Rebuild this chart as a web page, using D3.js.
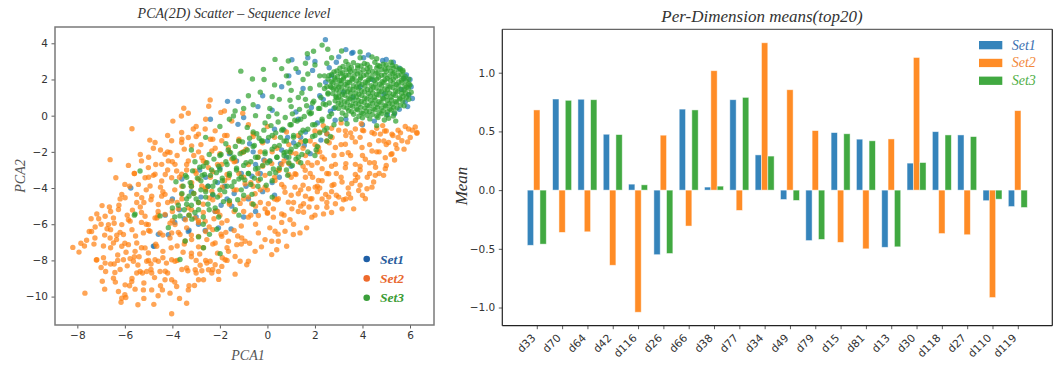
<!DOCTYPE html>
<html><head><meta charset="utf-8">
<script src="https://cdn.jsdelivr.net/npm/d3@7"></script>
<style>body{margin:0;background:#fff}svg{display:block}</style>
</head><body><svg id="c" width="1058" height="366"></svg>
<script>
// ---------- Scatter data (PCA coordinates) ----------
const set1Points = [
[5.55,2.62],[5.85,2.25],[6.0,2.0],[5.95,1.15],[5.8,0.75],[5.55,0.35],[5.05,0.05],[4.5,-0.3],[3.3,-0.2],[2.8,0.4],
[2.6,2.65],[3.0,3.25],[3.55,3.45],[4.25,3.35],[4.85,3.05],[5.3,2.95],[2.45,1.85],[2.35,0.9],[5.65,1.45],[3.6,1.0],
[4.4,2.0],[3.9,1.6],[4.9,1.2],[2.44,4.2],[1.03,3.09],[1.7,3.2],[2.0,3.0],[3.3,3.65],[3.6,3.5],[1.3,2.4],
[0.6,1.6],[-0.2,1.1],[0.9,2.2],[-1.68,0.79],[-1.23,0.79],[-2.4,-0.2],[-1.24,-0.48],[-1.0,-0.1],[-0.4,0.5],[0.2,0.3],
[1.5,1.5],[2.2,1.1],[1.9,2.5],[-3.2,-4.2],[-2.8,-4.5],[-2.3,-4.4],[-1.8,-3.9],[-1.4,-4.3],[-0.9,-3.9],[-0.3,-3.2],
[0.1,-2.5],[0.6,-1.9],[1.1,-1.5],[1.6,-0.9],[2.1,-0.4],[-2.0,-2.9],[-1.3,-2.5],[-0.6,-2.0],[0.0,-1.4],[0.7,-0.8],
[1.3,-0.2],[-3.6,-3.5],[-2.6,-3.4],[-0.2,-4.2],[0.5,-3.4],[1.0,-2.8],[1.8,-2.1],[2.5,-1.0],[-4.0,-4.6],[-3.7,-5.2],
[-3.0,-5.6],[-2.2,-5.3],[-1.5,-5.0],[-0.8,-4.6],[0.3,-4.4],[-2.1,-3.7],[-1.1,-3.2],[-0.5,-2.7],[0.8,-2.3],[-5.75,-4.0],
[-4.8,-7.21],[-4.59,-6.56],[-3.3,-6.33],[-2.13,-5.26],[-4.17,-6.58],[-4.77,-7.22],[-3.33,-6.4],[-2.62,-6.35],[-2.06,-6.2],[-1.53,-6.26],
[-3.9,-5.9],[-3.5,-5.7],[-2.9,-6.0],[-1.0,-5.6],[-0.5,-5.3],[-4.3,-5.5],[-1.7,-4.6],[-2.5,-3.9],[0.2,-3.7],[1.4,-1.2],
[6.05,1.6],[5.9,0.5],[5.35,0.1],[2.9,2.95],[4.05,3.2],[2.65,0.25],
[-1.6,-2.1],[-0.75,-1.55],[0.3,-0.75],[1.2,0.2],[1.85,0.45],[-2.85,-3.0],[-0.15,-2.45],[0.55,-2.65],[1.55,-1.65],[2.25,-1.35],
[-1.95,-4.95],[-0.65,-3.35],[0.85,-1.2],[2.85,-0.25],[3.2,1.3],[2.7,2.2],[5.75,2.05],[6.1,0.95],[4.0,-0.5],[5.0,3.1]
];
const set2Points = [
[-2.41,0.87],[-2.47,0.52],[-3.52,0.41],[-3.62,-0.02],[-3.33,0.13],[-3.98,-0.3],[-1.96,0.18],[-1.81,0.26],[-1.04,0.13],[-5.7,-0.72],
[-6.62,-2.43],[-6.38,-3.43],[-7.42,-5.7],[-7.18,-5.43],[-6.96,-4.97],[-6.83,-5.56],[-6.13,-4.35],[-5.99,-4.54],[-6.27,-5.19],[-5.68,-5.22],
[-8.19,-7.28],[-7.93,-7.54],[-7.61,-6.89],[-7.26,-6.76],[-7.68,-9.81],[-7.2,-7.98],[-6.85,-9.59],[-7.0,-8.39],[-6.81,-8.61],[-6.42,-8.67],
[-6.48,-8.98],[-6.27,-9.72],[-6.13,-10.09],[-5.96,-10.05],[-6.16,-10.31],[-5.99,-9.35],[-5.71,-9.17],[-5.57,-9.59],[-5.36,-8.61],[-5.26,-8.7],
[-5.08,-8.61],[-4.87,-8.7],[-4.52,-8.61],[-5.22,-9.63],[-4.87,-9.63],[-4.78,-10.43],[-4.42,-9.63],[-4.03,-10.95],[-4.31,-9.07],[-4.03,-9.07],
[-4.1,-9.81],[-3.82,-9.44],[-3.4,-10.37],[-3.33,-9.63],[-3.07,-9.39],[-2.9,-9.07],[-2.69,-9.07],[-3.35,-8.57],[-3.04,-8.52],[-2.76,-8.57],
[-2.48,-8.52],[-2.34,-8.7],[-2.83,-8.27],[-2.55,-8.14],[-2.2,-8.24],[-1.92,-8.33],[-2.06,-8.61],[-1.36,-8.76],[-6.34,-6.61],[-6.48,-7.04],
[-6.13,-7.22],[-5.85,-7.13],[-5.57,-7.5],[-5.5,-7.04],[-7.18,-7.96],[-6.83,-8.15],[-6.45,-8.2],[-6.06,-7.96],[-5.78,-7.9],[-5.64,-8.05],
[-5.15,-7.31],[-5.01,-7.59],[-4.73,-7.96],[-4.59,-8.05],[-5.08,-8.05],[-5.22,-6.48],[-4.94,-6.39],[-4.66,-7.22],[-4.52,-6.48],[-4.03,-7.96],
[-3.89,-8.05],[-3.4,-8.42],[-4.1,-6.76],[-3.68,-6.57],[-3.47,-6.94],[-3.19,-6.85],[-2.9,-6.67],[-2.55,-6.85],[-2.2,-7.04],[-1.92,-6.67],
[-1.64,-6.94],[-1.29,-7.13],[-1.64,-7.5],[-1.15,-8.05],[-1.36,-7.78],[-1.78,-7.96],[-2.41,-8.05],[-1.08,-6.76],[-4.03,-6.48],[-6.62,-6.76],
[-6.06,-6.57],[-0.94,-6.94],[-0.8,-8.05],[-0.87,-8.24],[-0.52,-7.5],[-0.38,-6.48],[-0.1,-6.85],[0.18,-6.94],[0.32,-6.39],[0.39,-7.41],
[0.18,-7.68],[0.74,-6.39],[0.81,-7.22],[1.09,-6.57],[1.37,-6.48],[1.65,-6.2],[0.46,-6.94],[6.29,-0.93],[6.01,-1.21],[5.94,-0.74],
[5.24,-2.1],[5.45,-1.82],[4.96,-2.93],[4.89,-3.3],[4.54,-3.3],[4.47,-3.67],[4.19,-4.04],[4.12,-4.59],[3.63,-5.15],[3.14,-5.15],
[2.86,-4.87],[2.5,-5.06],[2.36,-5.43],[1.87,-5.61],[1.52,-5.34],[1.03,-5.15],[0.6,-5.43],[0.25,-5.61],[-0.38,-5.52],[-0.8,-5.61],
[-0.1,-5.15],[4.68,-1.39],[5.1,-1.48],[3.98,-1.76],[4.4,-1.95],[4.96,-2.32],[4.12,-2.41],[3.7,-2.69],[5.24,-1.02],[5.66,-1.39],
[4.75,-1.02],[4.4,-0.93],[3.56,-1.21],[3.28,-1.58],[3.14,-2.14],[3.28,-2.88],[2.86,-2.69],[2.58,-3.21],[2.3,-2.93],[2.15,-3.58],
[2.72,-3.86],[3.14,-3.67],[3.7,-3.58],[3.84,-4.14],[3.42,-4.32],[3.0,-4.5],[2.58,-4.5],[1.87,-4.59],[1.3,-4.32],[1.73,-4.04],
[2.01,-3.95],[1.16,-3.95],[0.74,-4.23],[0.46,-4.59],[0.04,-4.87],[0.88,-4.78],[1.52,-4.87],[2.08,-5.06],[1.59,-3.02],[1.16,-3.21],
[1.87,-2.74],[2.3,-2.28],[2.86,-1.76],[3.28,-0.84],[3.7,-0.74],[4.05,-0.84],[2.72,-1.21],[2.15,-1.76],[-0.1,-3.95],[-0.52,-4.32],
[-0.66,-4.87],[-0.38,-3.58],[0.32,-3.58],[0.46,-3.02],[0.18,-2.65],[-0.94,-3.76],[-4.73,-1.48],[-4.31,-2.13],[-4.03,-1.39],[-3.61,-1.48],
[-3.33,-1.21],[-3.19,-1.67],[-2.9,-1.02],[-2.62,-0.74],[-3.12,-0.74],[-2.2,-0.84],[-1.92,-1.39],[-1.64,-1.76],[-2.34,-1.95],[-2.76,-2.32],
[-3.33,-2.5],[-3.89,-2.69],[-4.45,-2.69],[-5.01,-2.87],[-4.73,-3.24],[-5.15,-3.43],[-5.43,-3.8],[-4.94,-3.89],[-4.45,-3.61],[-4.03,-3.43],
[-3.61,-3.24],[-3.05,-3.06],[-2.48,-2.87],[-1.92,-2.69],[-1.36,-2.5],[-1.08,-2.04],[-5.5,-4.35],[-5.29,-4.54],[-4.87,-4.45],[-4.59,-4.91],
[-4.31,-4.35],[-4.03,-4.72],[-4.31,-5.46],[-4.73,-5.65],[-5.15,-5.56],[-5.01,-6.02],[-3.61,-4.35],[-3.33,-5.09],[-3.05,-5.65],[-3.89,-6.02],
[-2.62,-5.83],[-2.2,-5.28],[-1.92,-5.93],[-6.13,-6.02],[-6.48,-5.65],[-6.69,-6.02],[-5.78,-5.83],[-4.1,-2.04],[-3.82,-3.06],[-2.76,-3.89],
[-3.19,-3.71],[-2.34,-4.17],[-1.64,-3.43],[-3.61,-0.93],[-4.17,-2.5],[6.22,-0.63],[6.29,-0.97],[5.5,-0.8],[5.28,-1.1],[4.93,-0.85],
[-2.8,-1.6],[-2.3,-1.3],[-1.7,-1.1],[-1.2,-1.4],[-0.6,-1.0],[-0.2,-1.5],[0.3,-1.2],[0.8,-0.9],[1.3,-1.1],[1.8,-1.4],
[2.2,-0.9],[2.6,-1.5],[-3.1,-2.2],[-2.6,-2.6],[-2.0,-2.1],[-1.5,-2.4],[-1.0,-2.0],[-0.4,-2.3],[0.2,-2.0],[0.7,-2.5],
[1.2,-2.1],[1.7,-2.6],[2.1,-2.0],[-3.4,-3.0],[-2.9,-3.5],[-2.3,-3.1],[-1.8,-3.6],[-1.2,-3.2],[-0.7,-3.7],[-0.1,-3.3],
[0.5,-3.0],[1.0,-3.4],[-3.6,-3.9],[-3.1,-4.3],[-2.6,-4.0],[-2.0,-4.4],[-1.4,-4.1],[-0.8,-4.5],[-0.3,-4.1],[0.3,-4.6],
[-3.8,-4.8],[-3.2,-5.2],[-2.7,-4.9],[-2.1,-5.3],[-1.6,-4.9],[-1.0,-5.3],[-0.5,-5.0],[0.0,-5.4],[-4.4,-4.2],[-4.8,-3.3],
[-4.2,-3.0],[-3.8,-2.2],[-4.5,-1.9],[-5.0,-2.3],[-5.6,-3.2],[-6.0,-3.8],[-5.2,-4.8],[-4.6,-5.3],[-4.0,-5.8],[-3.4,-6.2],
[-2.9,-5.8],[-2.3,-6.3],[-1.7,-5.8],[-1.1,-6.1],[-0.5,-6.0],[0.1,-6.2],[0.6,-5.9],[1.1,-6.0],[-5.7,-6.3],[-5.1,-6.0],
[-6.6,-6.3],[-7.0,-6.0],[-6.9,-7.2],[-6.3,-7.7],[-5.9,-8.3],[-5.4,-7.8],[-4.9,-8.2],[-4.4,-7.5],[-3.8,-7.2],[-3.2,-7.6],
[-2.7,-7.3],[-2.1,-7.6],[-1.7,-8.0],[-3.0,-8.0],[-4.3,-8.6],[-5.7,-9.0],[-6.6,-8.2],[-7.4,-6.4],[-7.7,-7.2],[0.9,-1.6],
[1.5,-1.8],[2.4,-2.4],[2.9,-3.2],[3.5,-2.2],[3.9,-3.0],[4.3,-2.6],[4.7,-2.0],[5.0,-1.6],[5.5,-1.2],[5.8,-0.6],
[4.6,-0.7],[3.9,-1.2],[3.3,-1.1],[2.7,-0.7],[3.1,-0.4],[1.8,-3.2],[2.3,-3.6],[3.3,-4.6],[3.8,-3.4],[4.3,-3.2],
[1.0,-4.4],[1.4,-5.0],[2.1,-4.2],[2.7,-4.2],[0.6,-3.8],[-0.2,-2.8],[0.0,-0.6],[-0.8,-0.5],[-1.5,-0.3],[-2.6,-0.2],[-3.0,-0.6],
[-7.1,-5.7],[-6.45,-5.95],[-5.85,-5.75],[-5.3,-5.9],[-4.65,-5.65],[-4.1,-5.95],[-3.45,-5.75],[-2.9,-5.9],[-2.25,-5.7],
[-7.5,-6.4],[-6.85,-6.6],[-6.2,-6.45],[-5.55,-6.65],[-5.0,-6.35],[-4.4,-6.6],[-3.75,-6.45],[-3.2,-6.6],[-2.6,-6.4],[-1.95,-6.55],[-1.4,-6.35],
[-7.3,-7.1],[-6.6,-7.3],[-6.0,-7.05],[-5.3,-7.3],[-4.7,-7.1],[-4.05,-7.3],[-3.5,-7.1],[-2.9,-7.25],[-2.3,-7.1],[-1.7,-7.3],[-1.1,-7.1],
[-6.9,-7.85],[-6.3,-8.0],[-5.6,-7.8],[-5.0,-8.0],[-4.4,-7.85],[-3.8,-8.0],[-3.2,-7.8],[-2.6,-8.0],[-1.9,-7.85],
[-6.2,-8.5],[-5.5,-8.7],[-4.9,-8.5],[-4.2,-8.7],[-3.6,-8.5],[-3.0,-8.7],[-2.3,-8.5],
[-6.4,-9.2],[-5.8,-9.4],[-5.2,-9.25],[-4.5,-9.4],[-3.9,-9.2],[-3.3,-9.4],[-6.0,-9.9],[-5.2,-10.1],[-4.6,-9.95],[-3.7,-10.1],
[-4.2,-1.1],[-3.6,-1.3],[-3.0,-1.15],[-2.4,-1.3],[-1.8,-1.1],[-1.2,-1.3],[-0.6,-1.15],
[-4.8,-1.8],[-4.2,-2.0],[-3.5,-1.85],[-2.9,-2.0],[-2.2,-1.8],[-1.6,-2.0],[-0.9,-1.85],[-0.3,-2.0],[0.4,-1.8],
[-5.3,-2.5],[-4.7,-2.7],[-4.0,-2.55],[-3.4,-2.7],[-2.7,-2.5],[-2.1,-2.7],[-1.4,-2.55],[-0.8,-2.7],[-0.1,-2.5],[0.6,-2.7],[1.3,-2.55],
[-5.6,-3.2],[-5.0,-3.4],[-4.3,-3.25],[-3.7,-3.4],[-3.0,-3.2],[-2.4,-3.4],[-1.7,-3.25],[-1.0,-3.4],[-0.4,-3.2],[0.3,-3.4],[0.9,-3.25],[1.6,-3.4],
[-5.8,-3.9],[-5.1,-4.1],[-4.5,-3.95],[-3.9,-4.1],[-3.2,-3.9],[-2.6,-4.1],[-1.9,-3.95],[-1.3,-4.1],[-0.6,-3.9],[0.0,-4.1],[0.7,-3.95],[1.4,-4.1],[2.1,-3.9],
[-6.2,-4.6],[-5.5,-4.8],[-4.9,-4.65],[-4.2,-4.8],[-3.6,-4.6],[-2.9,-4.8],[-2.3,-4.65],[-1.6,-4.8],[-1.0,-4.6],[-0.3,-4.8],[0.4,-4.65],[1.1,-4.8],[1.8,-4.6],[2.5,-4.8],[3.2,-4.65],
[-6.6,-5.3],[-5.9,-5.5],[-5.3,-5.35],[-4.6,-5.5],[-4.0,-5.3],[-3.3,-5.5],[-2.7,-5.35],[-2.0,-5.5],[-1.4,-5.3],[-0.7,-5.5],[0.0,-5.35],[0.7,-5.5],[1.3,-5.3],[2.0,-5.5],[2.7,-5.35],
[2.0,-0.85],[2.5,-1.0],[3.0,-0.8],[3.5,-0.95],[4.0,-0.8],[4.5,-1.0],[5.0,-0.85],[5.6,-0.95],[6.1,-0.8],
[1.4,-1.45],[2.0,-1.6],[2.5,-1.4],[3.1,-1.6],[3.7,-1.45],[4.3,-1.6],[4.9,-1.4],[5.4,-1.6],[5.9,-1.45],
[1.0,-2.05],[1.6,-2.2],[2.2,-2.0],[2.8,-2.2],[3.4,-2.05],[4.0,-2.2],[4.6,-2.0],[5.2,-2.15],
[0.9,-2.65],[1.5,-2.8],[2.1,-2.6],[2.7,-2.8],[3.3,-2.65],[3.9,-2.8],[4.5,-2.6],[5.0,-2.75],
[1.2,-3.25],[1.9,-3.4],[2.5,-3.2],[3.1,-3.4],[3.7,-3.25],[4.2,-3.4],[4.7,-3.2],
[1.5,-3.85],[2.2,-4.0],[2.8,-3.8],[3.4,-4.0],[3.9,-3.85],[4.4,-3.95],[1.6,-4.45],[2.3,-4.6],[2.9,-4.4],[3.5,-4.55],[4.0,-4.4],
[-6.75,-6.25],[-6.35,-6.85],[-5.95,-7.55],[-5.45,-8.25],[-4.75,-8.95],[-4.25,-8.15],[-3.55,-7.55],[-2.85,-7.65],[-2.45,-6.15],[-1.75,-6.45],
[-1.25,-6.65],[-0.75,-7.05],[-0.25,-7.25],[0.45,-6.55],[-5.35,-5.05],[-4.45,-4.45],[-3.75,-5.15],[-2.45,-4.55],[-1.15,-4.85],[0.25,-5.15],
[0.95,-5.75],[1.75,-5.05],[2.45,-4.35],[3.55,-3.75],[4.55,-2.85],[5.35,-2.45],[5.75,-1.85],[4.85,-0.55],[3.95,-0.45],[2.35,-0.55],
[-4.95,-1.35],[-5.35,-2.15],[-5.85,-2.75],[-6.25,-4.95],[-6.65,-5.05],[-7.25,-6.15],[-7.85,-7.05],[-6.95,-9.15],[-5.45,-10.45],[-2.05,-9.05]
];
const set3Points = [
[3.62,2.93],[4.08,2.88],[4.52,2.95],[4.87,2.84],[3.18,2.72],[3.53,2.66],[3.94,2.75],[4.31,2.68],[4.72,2.73],[5.08,2.64],
[5.41,2.71],[2.92,2.47],[3.31,2.54],[3.68,2.45],[4.03,2.52],[4.42,2.44],[4.81,2.55],[5.19,2.46],[5.52,2.52],[2.71,2.28],
[3.08,2.33],[3.43,2.25],[3.79,2.31],[4.18,2.26],[4.57,2.34],[4.93,2.24],[5.28,2.32],[5.63,2.27],[2.83,2.08],[3.22,2.13],
[3.58,2.05],[3.93,2.11],[4.31,2.04],[4.68,2.12],[5.04,2.06],[5.39,2.14],[5.72,2.07],[2.68,1.88],[3.03,1.93],[3.38,1.85],
[3.74,1.92],[4.12,1.86],[4.49,1.94],[4.83,1.87],[5.18,1.93],[5.52,1.86],[5.84,1.91],[2.91,1.68],[3.27,1.73],[3.62,1.65],
[3.98,1.72],[4.37,1.66],[4.73,1.74],[5.08,1.67],[5.43,1.72],[5.79,1.66],[2.78,1.48],[3.12,1.53],[3.47,1.46],[3.83,1.52],
[4.21,1.45],[4.58,1.53],[4.94,1.47],[5.28,1.54],[5.62,1.46],[5.93,1.52],[3.02,1.28],[3.38,1.33],[3.72,1.26],[4.08,1.32],
[4.43,1.27],[4.79,1.34],[5.13,1.26],[5.48,1.33],[5.81,1.27],[2.88,1.08],[3.26,1.13],[3.61,1.06],[3.97,1.12],[4.33,1.07],
[4.69,1.14],[5.02,1.06],[5.38,1.12],[5.71,1.07],[3.09,0.88],[3.47,0.93],[3.82,0.86],[4.18,0.92],[4.53,0.87],[4.88,0.94],
[5.22,0.87],[5.58,0.92],[2.98,0.68],[3.36,0.72],[3.71,0.66],[4.07,0.73],[4.42,0.67],[4.78,0.72],[5.12,0.66],[5.43,0.71],
[3.21,0.48],[3.58,0.52],[3.93,0.46],[4.28,0.53],[4.63,0.47],[4.98,0.52],[5.31,0.46],[3.42,0.27],[3.79,0.32],[4.16,0.26],
[4.52,0.33],[4.87,0.27],[5.21,0.31],[3.63,0.08],[4.02,0.12],[4.41,0.06],[4.79,0.11],[3.72,-0.22],[4.31,-0.18],[4.92,-0.24],
[3.35,-0.45],[4.6,-0.55],[5.4,-0.3],[2.5,2.9],[2.7,3.2],[3.3,3.0],[3.9,3.2],[4.6,3.15],[5.2,2.95],[5.7,2.5],
[6.0,1.7],[6.05,1.3],[5.95,0.9],[5.75,0.55],[2.5,1.6],[2.4,2.2],[2.55,1.2],
[3.4,2.82],[3.8,2.78],[4.2,2.83],[4.65,2.77],[5.0,2.82],[5.25,2.78],
[3.05,2.62],[3.45,2.57],[3.8,2.63],[4.2,2.58],[4.6,2.63],[4.95,2.57],[5.3,2.62],[5.6,2.58],
[2.8,2.42],[3.15,2.37],[3.5,2.43],[3.9,2.38],[4.25,2.42],[4.65,2.37],[5.0,2.43],[5.35,2.38],[5.7,2.42],
[2.6,2.22],[2.95,2.17],[3.3,2.23],[3.65,2.18],[4.05,2.22],[4.4,2.17],[4.8,2.23],[5.15,2.18],[5.5,2.22],[5.8,2.17],
[2.55,2.02],[2.85,1.97],[3.2,2.03],[3.55,1.97],[3.9,2.02],[4.25,1.97],[4.6,2.03],[4.95,1.98],[5.3,2.02],[5.65,1.97],[5.95,2.02],
[2.75,1.82],[3.1,1.77],[3.45,1.83],[3.85,1.78],[4.2,1.82],[4.55,1.77],[4.9,1.83],[5.3,1.78],[5.65,1.82],[5.95,1.77],
[2.65,1.62],[3.0,1.57],[3.35,1.63],[3.75,1.58],[4.1,1.62],[4.45,1.57],[4.8,1.63],[5.15,1.58],[5.5,1.62],[5.85,1.57],
[2.9,1.42],[3.25,1.37],[3.6,1.43],[3.95,1.38],[4.35,1.42],[4.7,1.37],[5.05,1.43],[5.4,1.38],[5.75,1.42],
[2.75,1.22],[3.15,1.17],[3.5,1.23],[3.85,1.18],[4.25,1.22],[4.6,1.17],[4.95,1.23],[5.3,1.18],[5.65,1.22],[5.95,1.17],
[3.0,1.02],[3.4,0.97],[3.75,1.03],[4.1,0.98],[4.5,1.02],[4.85,0.97],[5.2,1.03],[5.55,0.98],[5.85,1.02],
[2.85,0.82],[3.25,0.77],[3.6,0.83],[3.95,0.78],[4.35,0.82],[4.7,0.77],[5.05,0.83],[5.4,0.78],[5.7,0.82],
[3.1,0.62],[3.5,0.57],[3.85,0.63],[4.2,0.58],[4.6,0.62],[4.95,0.57],[5.25,0.63],[5.6,0.58],
[3.35,0.42],[3.75,0.37],[4.1,0.43],[4.45,0.38],[4.8,0.42],[5.15,0.37],[5.45,0.43],
[3.55,0.22],[3.95,0.17],[4.3,0.23],[4.7,0.18],[5.05,0.22],[5.35,0.17],
[3.3,0.02],[3.85,-0.03],[4.2,0.02],[4.6,-0.02],[5.0,0.03],[5.3,-0.02],[4.0,-0.12],[4.65,-0.1],[5.1,-0.14],
[-3.6,-4.3],[-3.4,-4.9],[-3.2,-3.9],[-3.0,-4.6],[-2.9,-5.2],[-2.8,-3.6],[-2.6,-4.2],[-2.5,-4.9],[-2.4,-3.3],[-2.3,-3.9],
[-2.1,-4.5],[-2.0,-3.0],[-1.9,-3.6],[-1.8,-4.2],[-1.7,-2.7],[-1.6,-3.3],[-1.5,-3.9],[-1.4,-2.3],[-1.3,-2.9],[-1.2,-3.5],
[-1.1,-4.1],[-1.0,-2.0],[-0.9,-2.6],[-0.8,-3.2],[-0.7,-3.8],[-0.6,-1.7],[-0.5,-2.3],[-0.4,-2.9],[-0.3,-3.5],[-0.2,-1.4],
[-0.1,-2.0],[0.0,-2.6],[0.1,-3.2],[0.2,-1.1],[0.3,-1.7],[0.4,-2.3],[0.5,-2.9],[0.6,-0.8],[0.7,-1.4],[0.8,-2.0],
[0.9,-2.6],[1.0,-0.5],[1.1,-1.1],[1.2,-1.7],[1.3,-2.3],[1.4,-0.2],[1.5,-0.8],[1.6,-1.4],[1.7,-2.0],[1.8,0.1],
[1.9,-0.5],[2.0,-1.1],[2.1,-1.7],[2.2,0.4],[2.3,-0.2],[2.4,-0.8],[2.5,-1.4],[2.6,0.7],[2.7,0.1],[2.8,-0.5],
[2.9,1.0],[3.0,0.4],[3.1,-0.2],[-3.3,-5.5],[-2.7,-5.6],[-2.2,-5.1],[-1.6,-4.7],[-1.0,-4.4],[-0.4,-3.9],[0.2,-3.6],
[0.8,-3.0],[1.4,-2.6],[2.0,-2.2],[0.9,-2.3],[0.95,-2.0],[1.2,-2.4],[0.7,-2.2],[-0.6,-0.9],[-0.1,-0.4],[0.4,0.1],
[1.0,0.5],[1.6,0.9],[-1.2,-1.4],[-2.0,-2.2],[-2.7,-2.8],[-3.4,-3.4],
[-3.5,-5.2],[-3.4,-4.6],[-3.55,-3.9],[-3.45,-3.3],[-3.2,-4.95],[-3.1,-4.3],[-3.25,-3.7],[-3.15,-3.05],
[-2.9,-4.8],[-2.8,-4.1],[-2.95,-3.45],[-2.85,-2.85],[-2.6,-4.5],[-2.5,-3.9],[-2.65,-3.25],[-2.55,-2.6],
[-2.3,-4.35],[-2.2,-3.65],[-2.35,-3.0],[-2.25,-2.4],[-2.0,-4.1],[-1.9,-3.45],[-2.05,-2.8],[-1.95,-2.15],
[-1.7,-3.9],[-1.6,-3.2],[-1.75,-2.55],[-1.65,-1.9],[-1.4,-3.65],[-1.3,-3.0],[-1.45,-2.35],[-1.35,-1.7],
[-1.1,-3.4],[-1.0,-2.75],[-1.15,-2.1],[-1.05,-1.45],[-0.8,-3.2],[-0.7,-2.55],[-0.85,-1.9],[-0.75,-1.25],
[-0.5,-2.95],[-0.4,-2.3],[-0.55,-1.65],[-0.45,-1.0],[-0.2,-2.75],[-0.1,-2.1],[-0.25,-1.4],[-0.15,-0.8],
[0.1,-2.5],[0.2,-1.85],[0.05,-1.2],[0.15,-0.55],[0.4,-2.3],[0.5,-1.65],[0.35,-0.95],[0.45,-0.35],
[0.7,-2.05],[0.8,-1.4],[0.65,-0.75],[0.75,-0.1],[1.0,-1.85],[1.1,-1.2],[0.95,-0.5],[1.05,0.1],
[1.3,-1.6],[1.4,-0.95],[1.25,-0.3],[1.35,0.35],[1.6,-1.4],[1.7,-0.75],[1.55,-0.05],[1.65,0.55],
[1.9,-1.15],[2.0,-0.5],[1.85,0.15],[1.95,0.8],[2.2,-0.95],[2.3,-0.3],[2.15,0.4],[2.25,1.0],
[2.5,-0.7],[2.6,-0.05],[2.45,0.6],[2.55,1.25],
[-5.36,-3.06],[-5.6,-5.5],[-4.17,-6.19],[-3.68,-5.54],[-3.46,-6.93],[-3.68,-7.95],[-1.99,-7.63],[-2.69,-7.3],[-2.9,-6.7],[-2.44,-6.56],
[-3.18,-5.72],[-2.13,-6.28],[-4.52,-5.54],[-5.57,-5.44],[-3.9,-5.6],[-1.2,-5.5],[-0.6,-4.9],[0.2,-4.5],[-4.0,-5.1],[-2.7,-6.0],
[-1.12,2.46],[-0.63,2.03],[-0.17,2.56],[-0.14,2.0],[0.32,3.11],[0.88,3.02],[1.68,3.42],[1.94,3.56],[2.3,3.9],[2.54,3.67],
[3.12,3.57],[3.9,3.52],[4.4,3.24],[-1.36,0.26],[-1.43,-0.02],[-1.6,-0.2],[-0.3,1.3],[0.3,1.7],[0.8,2.2],[1.2,2.6],
[1.5,2.0],[2.0,2.8],[0.5,0.9],[-0.8,1.1],[1.0,1.4],[1.8,1.5],[2.2,2.2],[1.3,1.0],[1.9,0.7],[0.1,0.4],
[-0.5,0.0],[2.4,1.5],[1.6,2.9],[0.6,2.6],
[-3.3,-4.45],[-3.05,-5.35],[-2.75,-3.3],[-2.45,-5.2],[-2.15,-3.15],[-1.85,-4.75],[-1.55,-2.05],[-1.25,-4.65],[-0.95,-3.55],[-0.65,-4.35],
[-0.35,-1.25],[-0.05,-3.85],[0.25,-2.95],[0.55,-1.2],[0.85,-3.3],[1.15,-0.25],[1.45,-2.15],[1.75,0.2],[2.05,-1.9],[2.35,0.65],
[2.65,-1.15],[2.85,0.45],[3.15,0.15],[-3.75,-4.95],[-3.85,-3.65],[-2.05,-5.6],[-1.35,-5.2],[-0.85,-0.65],[0.05,-0.05],[0.95,0.85],
[1.45,1.25],[1.05,-2.75],[0.35,-3.15],[-0.55,-3.45],[-1.75,-1.55],[-2.45,-2.15],[-3.05,-2.55],[2.7,1.55],[3.1,1.95],[2.2,1.7],
[1.7,2.3],[0.9,1.8],[0.2,1.05],[-0.6,0.6],[-1.0,0.4],[-2.0,-0.6],[-2.6,-1.2],[-3.2,-1.9]
];
const scatterXTicks = [-8,-6,-4,-2,0,2,4,6];
const scatterYTicks = [4,2,0,-2,-4,-6,-8,-10];

// ---------- Bar data ----------
const dims = ["d33","d70","d64","d42","d116","d26","d66","d38","d77","d34","d49","d79","d15","d81","d13","d30","d118","d27","d110","d119"];
const set1Means = [-0.47,0.776,0.774,0.476,0.051,-0.55,0.69,0.026,0.77,0.30,-0.08,-0.43,0.49,0.434,-0.487,0.23,0.498,0.47,-0.09,-0.14];
const set2Means = [0.683,-0.36,-0.355,-0.64,-1.04,0.468,-0.306,1.017,-0.173,1.255,0.855,0.507,-0.445,-0.50,0.436,1.13,-0.37,-0.38,-0.915,0.677];
const set3Means = [-0.46,0.765,0.77,0.473,0.045,-0.54,0.683,0.034,0.79,0.29,-0.088,-0.42,0.48,0.42,-0.483,0.235,0.47,0.456,-0.077,-0.148];
const barYTicks = [1.0,0.5,0.0,-0.5,-1.0];
const seriesNames = ["Set1","Set2","Set3"];

// ---------- Styles ----------
const baseColors = ["#1f77b4","#ff7f0e","#2ca02c"];
const legendDotColors = ["#1f5fa6","#ee6a2c","#3a9f3a"];
const scatterLegendText = ["#2a5c9c","#e8672e","#3c9c34"];
const barLegendText = ["#3a70b0","#f2873a","#4fae45"];
const serif = "'Liberation Serif','Times New Roman',serif";
const sans = "'DejaVu Sans',sans-serif";
const minus = d => (d < 0 ? "\u2212" + Math.abs(d) : String(d));

const svg = d3.select("#c");
svg.append("rect").attr("width",1058).attr("height",366).attr("fill","#fff");

// ================= LEFT: scatter =================
const L = {l:55, r:434, t:27, b:325};
const sx = d3.scaleLinear([-8.94,7.01],[L.l,L.r]);
const sy = d3.scaleLinear([-11.57,4.9],[L.b,L.t]);
const gL = svg.append("g");

const gxL = gL.append("g").attr("transform",`translate(0,${L.b})`)
  .call(d3.axisBottom(sx).tickValues(scatterXTicks).tickSize(3.5).tickPadding(3.5).tickFormat(minus));
const gyL = gL.append("g").attr("transform",`translate(${L.l},0)`)
  .call(d3.axisLeft(sy).tickValues(scatterYTicks).tickSize(3.5).tickPadding(3.5).tickFormat(minus));
[gxL,gyL].forEach(g=>{
  g.select(".domain").remove();
  g.selectAll("line").attr("stroke","#333").attr("stroke-width",0.8);
  g.selectAll("text").attr("font-family",sans).attr("font-size","10.5px").attr("fill","#333");
});

svg.append("clipPath").attr("id","clipL").append("rect")
  .attr("x",L.l).attr("y",L.t).attr("width",L.r-L.l).attr("height",L.b-L.t);
const pts = gL.append("g").attr("clip-path","url(#clipL)");
[set1Points,set2Points,set3Points].forEach((arr,i)=>{
  pts.append("g").selectAll("circle").data(arr).join("circle")
    .attr("cx",d=>sx(d[0])).attr("cy",d=>sy(d[1])).attr("r",2.7)
    .attr("fill",baseColors[i]).attr("fill-opacity",0.7);
});
gL.append("rect").attr("x",L.l).attr("y",L.t).attr("width",L.r-L.l).attr("height",L.b-L.t)
  .attr("fill","none").attr("stroke","#7a7a7a").attr("stroke-width",1.5);

gL.append("text").attr("x",234).attr("y",18).attr("text-anchor","middle")
  .attr("font-family",serif).attr("font-style","italic").attr("font-size","14px").attr("fill","#333")
  .text("PCA(2D) Scatter \u2013 Sequence level");
gL.append("text").attr("x",248).attr("y",360).attr("text-anchor","middle")
  .attr("font-family",serif).attr("font-style","italic").attr("font-size","14px").attr("fill","#555")
  .text("PCA1");
gL.append("text").attr("transform","translate(25,176) rotate(-90)").attr("text-anchor","middle")
  .attr("font-family",serif).attr("font-style","italic").attr("font-size","14px").attr("fill","#555")
  .text("PCA2");

const legL = gL.append("g");
seriesNames.forEach((n,i)=>{
  const yy = 259 + i*19.4;
  legL.append("circle").attr("cx",366.7).attr("cy",yy).attr("r",3.3).attr("fill",legendDotColors[i]);
  legL.append("text").attr("x",380).attr("y",yy+4.5).attr("font-family",serif).attr("font-style","italic")
    .attr("font-weight","bold").attr("font-size","13.5px").attr("fill",scatterLegendText[i]).text(n);
});

// ================= RIGHT: bars =================
const R = {l:502.3, r:1052.3, t:29.3, b:325.7};
const bx = d3.scaleLinear([-1.3625,20.3625],[R.l,R.r]);
const by = d3.scaleLinear([-1.15475,1.36975],[R.b,R.t]);
const gR = svg.append("g");
const bw = 0.25;
const offsets = [-0.25,0,0.25];
[set1Means,set2Means,set3Means].forEach((vals,s)=>{
  gR.append("g").selectAll("rect").data(vals).join("rect")
    .attr("x",(d,i)=>bx(i+offsets[s]-bw/2))
    .attr("width",bx(bw)-bx(0))
    .attr("y",d=>Math.min(by(d),by(0)))
    .attr("height",d=>Math.abs(by(d)-by(0)))
    .attr("fill",baseColors[s]).attr("fill-opacity",0.9)
    .attr("stroke","#fff").attr("stroke-opacity",0.6).attr("stroke-width",0.8);
});

const gxR = gR.append("g").attr("transform",`translate(0,${R.b})`)
  .call(d3.axisBottom(bx).tickValues(d3.range(dims.length)).tickSize(3.5).tickFormat(i=>dims[i]));
gxR.select(".domain").remove();
gxR.selectAll("line").attr("stroke","#333").attr("stroke-width",0.8);
gxR.selectAll("text").attr("font-family",sans).attr("font-size","10.8px").attr("fill","#333")
  .attr("text-anchor","end").attr("dy",null).attr("y",null)
  .attr("transform","translate(-1,13) rotate(-45)");

const gyR = gR.append("g").attr("transform",`translate(${R.l},0)`)
  .call(d3.axisLeft(by).tickValues(barYTicks).tickSize(3.5).tickPadding(3.5)
    .tickFormat(d=>(d<0?"\u2212":"")+Math.abs(d).toFixed(1)));
gyR.select(".domain").remove();
gyR.selectAll("line").attr("stroke","#333").attr("stroke-width",0.8);
gyR.selectAll("text").attr("font-family",sans).attr("font-size","10.5px").attr("fill","#333");

gR.append("line").attr("x1",R.l).attr("x2",R.r).attr("y1",R.t).attr("y2",R.t).attr("stroke","#666").attr("stroke-width",1.2);
gR.append("line").attr("x1",R.r).attr("x2",R.r).attr("y1",R.t).attr("y2",R.b).attr("stroke","#222").attr("stroke-width",1.2);
gR.append("line").attr("x1",R.l).attr("x2",R.l).attr("y1",R.t).attr("y2",R.b).attr("stroke","#222").attr("stroke-width",1.2);
gR.append("line").attr("x1",R.l).attr("x2",R.r).attr("y1",R.b).attr("y2",R.b).attr("stroke","#222").attr("stroke-width",1.2);

gR.append("text").attr("x",762).attr("y",22).attr("text-anchor","middle")
  .attr("font-family",serif).attr("font-style","italic").attr("font-size","17px").attr("fill","#333")
  .text("Per-Dimension means(top20)");
gR.append("text").attr("transform","translate(467,186) rotate(-90)").attr("text-anchor","middle")
  .attr("font-family",serif).attr("font-style","italic").attr("font-size","17px").attr("fill","#333")
  .text("Mean");

const legR = gR.append("g");
seriesNames.forEach((n,i)=>{
  const yy = 41 + i*17.8;
  legR.append("rect").attr("x",979).attr("y",yy).attr("width",23.3).attr("height",8.3)
    .attr("fill",baseColors[i]).attr("fill-opacity",0.9);
  legR.append("text").attr("x",1011.7).attr("y",yy+8.5).attr("font-family",serif).attr("font-style","italic")
    .attr("font-size","14px").attr("fill",barLegendText[i]).text(n);
});
</script></body></html>
